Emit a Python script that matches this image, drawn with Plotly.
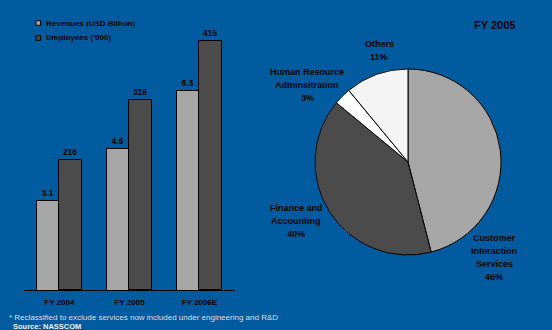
import plotly.graph_objects as go

# ---- data ----
years = ["FY 2004", "FY 2005", "FY 2006E"]
revenues = [3.1, 4.6, 6.3]          # USD billion
employees = [216, 316, 415]         # '000

segments = ["Customer<br>Interaction<br>Services", "Finance and<br>Accounting",
            "Human Resource<br>Adminsitration", "Others"]
shares = [46, 40, 3, 11]

W, H = 552, 330
BG = "#035B9F"
FONT = "Liberation Sans, Arial, sans-serif"
LIGHT = "#A6A6A6"
DARK = "#4B4B4B"


def px(x):
    return x / W


def py(y):
    return 1 - y / H


fig = go.Figure()

xs = list(range(len(years)))
bw = 0.324

fig.add_trace(go.Bar(
    x=xs, y=revenues, yaxis="y2", width=bw, offset=-bw,
    marker=dict(color=LIGHT, line=dict(color="black", width=1)),
    texttemplate="%{y}", textposition="outside", cliponaxis=False,
    textfont=dict(family=FONT, size=8.5, color="black", weight="bold"),
    showlegend=False,
))
fig.add_trace(go.Bar(
    x=xs, y=employees, yaxis="y", width=bw, offset=0,
    marker=dict(color=DARK, line=dict(color="black", width=1)),
    texttemplate="%{y}", textposition="outside", cliponaxis=False,
    textfont=dict(family=FONT, size=8.5, color="black", weight="bold"),
    showlegend=False,
))

fig.add_trace(go.Pie(
    values=shares, labels=[s.replace("<br>", " ") for s in segments],
    sort=False, direction="clockwise", rotation=0,
    marker=dict(colors=[LIGHT, DARK, "#FFFFFF", "#F4F4F4"],
                line=dict(color="black", width=1)),
    textinfo="none", hoverinfo="label+percent", showlegend=False,
    domain=dict(x=[px(315), px(501)], y=[py(255), py(69)]),
))

annotations = []

# pie slice labels, one line per annotation for even line spacing
label_pos = [(494, 238), (296, 208), (307, 72), (379, 44)]
LINE = 13
for name, val, (lx, ly) in zip(segments, shares, label_pos):
    lines = name.split("<br>") + [f"{val}%"]
    for i, line in enumerate(lines):
        annotations.append(dict(
            x=px(lx), y=py(ly + i * LINE), xref="paper", yref="paper",
            showarrow=False, text=line, align="center",
            font=dict(family=FONT, size=9, color="black", weight="bold"),
            xanchor="center", yanchor="middle",
        ))

annotations.append(dict(
    x=px(494), y=py(25), xref="paper", yref="paper", showarrow=False,
    text="FY 2005", font=dict(family=FONT, size=11, color="black", weight="bold"),
    xanchor="center", yanchor="middle",
))

# legend for the bars
legend_items = [("Revenues (USD Billion)", LIGHT, 23), ("Employees ('000)", DARK, 38)]
shapes = []
for text, color, ly in legend_items:
    shapes.append(dict(
        type="rect", xref="paper", yref="paper",
        x0=px(36), x1=px(40.6), y0=py(ly + 2.3), y1=py(ly - 2.3),
        fillcolor=color, line=dict(color="black", width=1),
    ))
    annotations.append(dict(
        x=px(43.5), y=py(ly), xref="paper", yref="paper", showarrow=False,
        text=text, font=dict(family=FONT, size=8, color="black", weight="bold"),
        xanchor="left", yanchor="middle",
    ))

# footnotes
annotations.append(dict(
    x=px(7), y=py(317), xref="paper", yref="paper", showarrow=False,
    text="* Reclassified to exclude services now included under engineering and R&D",
    font=dict(family=FONT, size=8, color="#DDDDDD"),
    xanchor="left", yanchor="middle",
))
annotations.append(dict(
    x=px(11), y=py(326.5), xref="paper", yref="paper", showarrow=False,
    text="Source: NASSCOM",
    font=dict(family=FONT, size=7.5, color="#F0F0F0", weight="bold"),
    xanchor="left", yanchor="middle",
))

fig.update_layout(
    width=W, height=H,
    margin=dict(l=0, r=0, t=0, b=0),
    paper_bgcolor=BG, plot_bgcolor=BG,
    bargap=0, barmode="overlay",
    xaxis=dict(
        domain=[px(24), px(235)], range=[-0.505, 2.51],
        tickvals=xs, ticktext=years, ticks="", showgrid=False, zeroline=False,
        showline=True, linecolor="black", linewidth=1, ticklabelstandoff=4,
        tickfont=dict(family=FONT, size=8, color="black", weight="bold"),
    ),
    yaxis=dict(
        domain=[py(290), py(20)], range=[0, 450],
        visible=False, showgrid=False, zeroline=False,
    ),
    yaxis2=dict(
        overlaying="y", range=[0.52, 8.36],
        visible=False, showgrid=False, zeroline=False,
    ),
    shapes=shapes,
    annotations=annotations,
)

fig.write_html("out.html")
